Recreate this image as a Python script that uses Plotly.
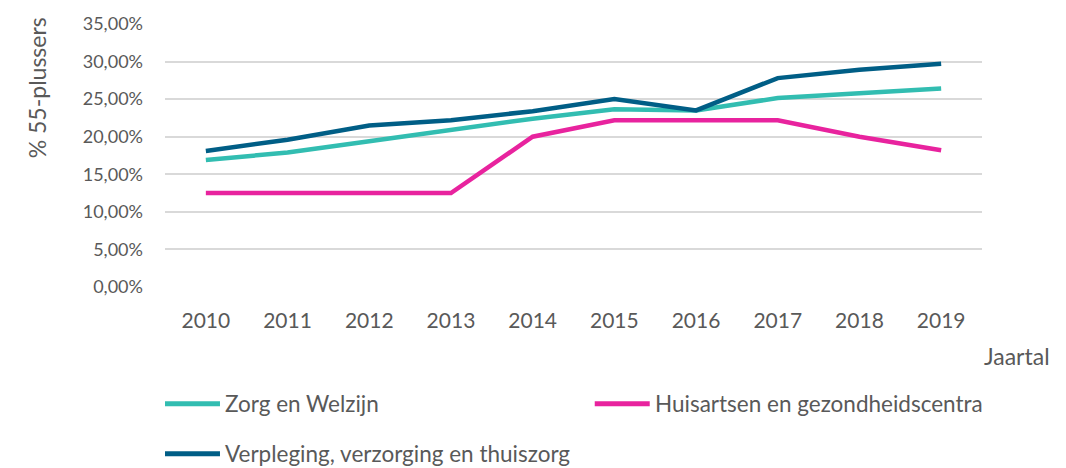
import plotly.graph_objects as go

years = ["2010", "2011", "2012", "2013", "2014", "2015", "2016", "2017", "2018", "2019"]
zorg = [0.169, 0.179, 0.194, 0.209, 0.224, 0.2365, 0.235, 0.2515, 0.258, 0.264]
huisartsen = [0.125, 0.125, 0.125, 0.125, 0.200, 0.222, 0.222, 0.222, 0.200, 0.182]
verpleging = [0.181, 0.196, 0.215, 0.222, 0.234, 0.250, 0.235, 0.278, 0.289, 0.297]

names = ["Zorg en Welzijn", "Huisartsen en gezondheidscentra", "Verpleging, verzorging en thuiszorg"]
colors = ["#32BDB1", "#E8239E", "#005E86"]
series = [zorg, huisartsen, verpleging]

FONT = "Lato"
TXT = "#595959"

fig = go.Figure()
for n, c, s in zip(names, colors, series):
    fig.add_trace(go.Scatter(x=years, y=s, name=n, mode="lines",
                             line=dict(color=c, width=4.5), showlegend=False))

fig.update_layout(
    width=1066, height=468,
    margin=dict(l=165, r=84, t=19, b=181),
    plot_bgcolor="white", paper_bgcolor="white",
    separators=",.",
    font=dict(family=FONT, size=20, color=TXT),
    xaxis=dict(type="category", range=[-0.5, 9.5], showgrid=False, showline=False, ticks="",
               ticklabelstandoff=19, tickfont=dict(size=21, color=TXT)),
    yaxis=dict(range=[0, 0.35], dtick=0.05, tickformat=".2%", showgrid=True,
               gridcolor="#D9D9D9", gridwidth=1.5, zeroline=False, showline=False,
               ticks="", ticklabelstandoff=21, tickfont=dict(size=18, color=TXT)),
)

# axis titles
fig.add_annotation(text="% 55-plussers", xref="paper", yref="paper", x=-0.157, y=1.034,
                   xanchor="center", yanchor="top", textangle=-90, showarrow=False,
                   font=dict(size=23, color=TXT))
fig.add_annotation(text="Jaartal", xref="paper", yref="paper", x=1.086, y=-0.261,
                   xanchor="right", yanchor="middle", showarrow=False,
                   font=dict(size=23, color=TXT))

# manual legend
leg = [(0, 0.0, -0.444), (1, 0.526, -0.444), (2, 0.0, -0.634)]
for i, xx, yy in leg:
    fig.add_shape(type="line", xref="paper", yref="paper", x0=xx, x1=xx + 0.0673,
                  y0=yy, y1=yy, line=dict(color=colors[i], width=5))
    fig.add_annotation(text=names[i], xref="paper", yref="paper", x=xx + 0.071, y=yy,
                       xanchor="left", yanchor="middle", showarrow=False,
                       font=dict(size=22.5, color=TXT))

fig.write_html("out.html", config={"displayModeBar": False},
               post_script="document.body.style.margin='0';")
